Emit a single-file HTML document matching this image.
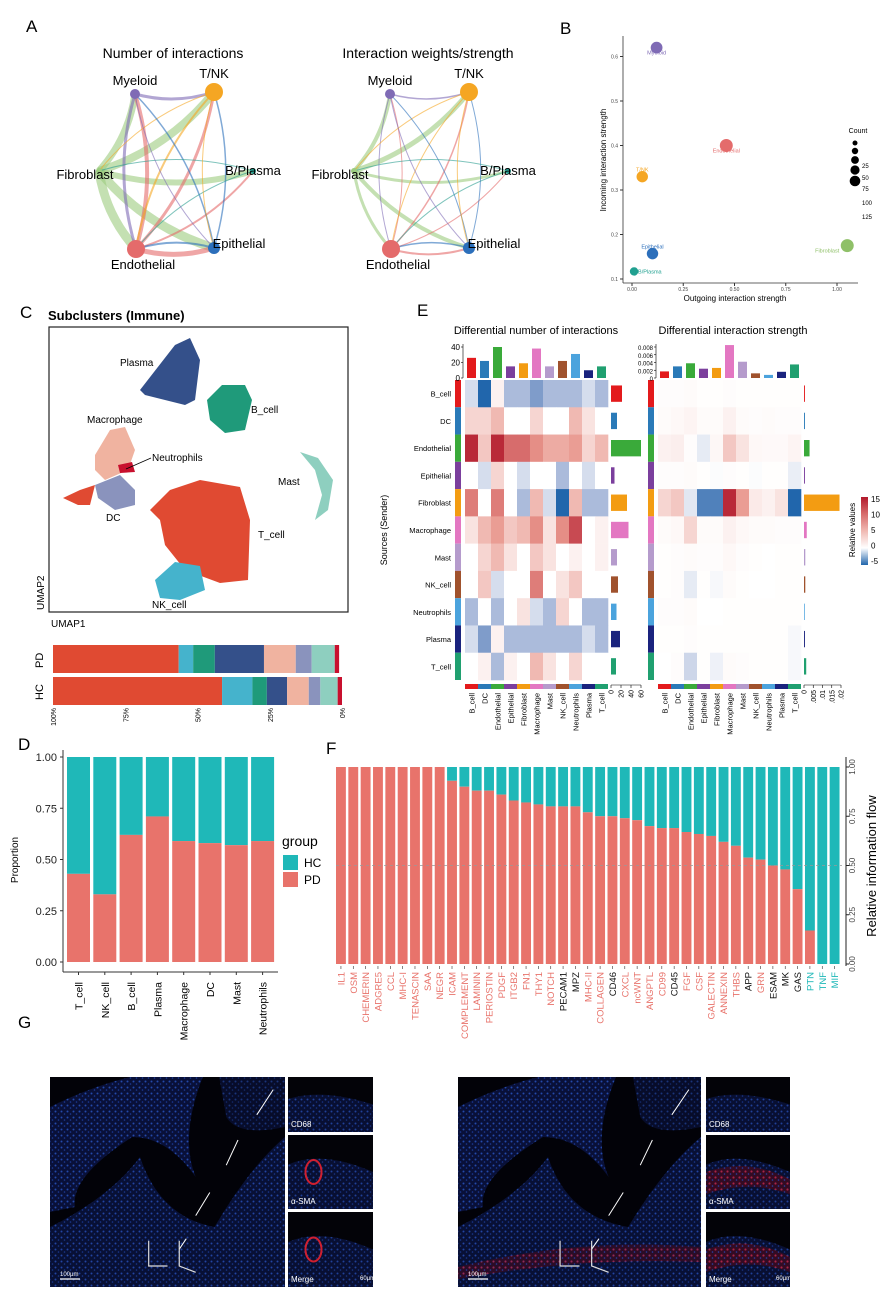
<!DOCTYPE html>
<html><head><meta charset="utf-8"><style>
body{margin:0;background:#fff;}
svg{display:block;font-family:"Liberation Sans",Arial,sans-serif;}
</style></head><body>
<svg id="fig" width="895" height="1300" viewBox="0 0 895 1300" xmlns="http://www.w3.org/2000/svg">
<defs>
<pattern id="tissue" width="6" height="6" patternUnits="userSpaceOnUse">
<rect width="6" height="6" fill="#0a1340"/>
<circle cx="1.5" cy="1.5" r="1" fill="#2a55c8"/>
<circle cx="4.5" cy="4" r="0.8" fill="#1f45b0"/>
</pattern>
<pattern id="tissueR" width="6" height="6" patternUnits="userSpaceOnUse">
<rect width="6" height="6" fill="#3a0a20"/>
<circle cx="1.5" cy="1.5" r="1.1" fill="#c0203a"/>
<circle cx="4.5" cy="4" r="0.8" fill="#2a45b0"/>
</pattern>
</defs>
<rect width="895" height="1300" fill="#fff"/>
<g font-size="17" fill="#000">
<text x="26" y="32">A</text>
<text x="560" y="34">B</text>
<text x="20" y="318">C</text>
<text x="417" y="316">E</text>
<text x="18" y="750">D</text>
<text x="326" y="754">F</text>
<text x="18" y="1028">G</text>
</g>
<g id="A"></g>
<g id="B"></g>
<g id="C"></g>
<g id="E"></g>
<g id="D"></g>
<g id="F"></g>
<g id="G"></g>
</svg>
<script>
const NS="http://www.w3.org/2000/svg";
function el(parent,tag,attrs,text){const e=document.createElementNS(NS,tag);for(const k in attrs)e.setAttribute(k,attrs[k]);if(text!==undefined)e.textContent=text;parent.appendChild(e);return e;}

/* ---------- Panel A data ---------- */
const netNodes=["Myeloid","T/NK","B/Plasma","Epithelial","Endothelial","Fibroblast"];
const netNodeSize=[5,9,3,6,9,3];
const netNodeColors=["#7f6bb5","#f5a623","#2a9d8f","#2c6fbb","#e46b6b","#9ccc7f"];
const netEdgesCount=[[5,0,7],[5,1,8],[5,4,9],[5,3,9],[5,2,6],[4,0,4],[4,1,3],[4,3,5],[4,2,2],[0,1,3],[0,4,3],[1,4,2],[1,5,1],[3,0,1.5],[3,1,1.5],[3,4,2],[2,4,1],[2,5,1],[1,3,1],[0,3,1]];
const netEdgesWeight=[[5,0,4],[5,1,5],[5,4,3],[5,3,4],[5,2,3],[4,0,1],[4,1,1.5],[4,3,2],[4,2,1],[0,1,1.5],[0,4,1],[1,4,1],[1,5,1],[3,0,1],[3,1,1],[3,4,1.5],[2,4,1],[2,5,1],[1,3,1],[0,3,1]];
(function(){
 const g=document.getElementById('A');
 const pos=[[-38,-77],[41,-79],[80,0],[41,77],[-37,78],[-74,0]];
 function net(cx,cy,title,edges,nm){
  const gg=el(g,'g',{});
  
  
  const t=el(gg,'text',{x:cx,y:58,'font-size':14,'text-anchor':'middle'},title);
  
  edges.forEach(([a,b,w])=>{
   const [x1,y1]=[cx+pos[a][0],cy+pos[a][1]],[x2,y2]=[cx+pos[b][0],cy+pos[b][1]];
   const mx=(x1+x2)/2,my=(y1+y2)/2;const dx=x2-x1,dy=y2-y1;
   const qx=mx-dy*0.15,qy=my+dx*0.15;
   const p=el(gg,'path',{d:`M${x1},${y1} Q${qx},${qy} ${x2},${y2}`,fill:'none',stroke:netNodeColors[a],'stroke-width':w,'stroke-opacity':0.6});
   
  });
  netNodes.forEach((n,i)=>{
   const x=cx+pos[i][0],y=cy+pos[i][1];
   const c=el(gg,'circle',{cx:x,cy:y,r:netNodeSize[i],fill:netNodeColors[i]});
   
   const off=[[0,-9,'middle'],[0,-14,'middle'],[0,4,'middle'],[25,0,'middle'],[7,20,'middle'],[-14,8,'middle']][i];
   const lab=el(gg,'text',{x:x+off[0],y:y+off[1],'font-size':13,'text-anchor':off[2]},n);
   
  });
 }
 net(173,171,'Number of interactions',netEdgesCount,'network-count');
 net(428,171,'Interaction weights/strength',netEdgesWeight,'network-weight');
})();

/* ---------- Panel B data ---------- */
const bNames=["Myeloid","Endothelial","T/NK","Epithelial","B/Plasma","Fibroblast"];
const bOutgoing=[0.12,0.46,0.05,0.10,0.01,1.05];
const bIncoming=[0.62,0.40,0.33,0.157,0.117,0.175];
const bCount=[60,80,55,55,20,80];
const bColors=["#7f6bb5","#e46b6b","#f5a623","#2c6fbb","#20a090","#8fc068"];
const bYTicks=[0.1,0.2,0.3,0.4,0.5,0.6];
const bXTicks=[0,0.25,0.5,0.75,1.0];
(function(){
 const g=document.getElementById('B');
 const X=v=>632+v*205, Y=v=>279-(v-0.1)*445;
 el(g,'line',{x1:623,y1:36,x2:623,y2:283,stroke:'#333','stroke-width':0.8});
 el(g,'line',{x1:623,y1:283,x2:858,y2:283,stroke:'#333','stroke-width':0.8});
 bYTicks.forEach(t=>{el(g,'line',{x1:620,x2:623,y1:Y(t),y2:Y(t),stroke:'#333'});el(g,'text',{x:618,y:Y(t)+2,'font-size':5,'text-anchor':'end',fill:'#444'},t.toFixed(1));});
 bXTicks.forEach(t=>{el(g,'line',{x1:X(t),x2:X(t),y1:283,y2:286,stroke:'#333'});el(g,'text',{x:X(t),y:291,'font-size':5,'text-anchor':'middle',fill:'#444'},t.toFixed(2));});
 const xt=el(g,'text',{x:735,y:301,'font-size':8,'text-anchor':'middle'},'Outgoing interaction strength');
 
 const yt=el(g,'text',{x:0,y:0,'font-size':8,'text-anchor':'middle',transform:'translate(606,160) rotate(-90)'},'Incoming interaction strength');
 
 bNames.forEach((n,i)=>{
  const c=el(g,'circle',{cx:X(bOutgoing[i]),cy:Y(bIncoming[i]),r:2+Math.sqrt(bCount[i])*0.5,fill:bColors[i]});
  
  const lx=n==='Fibroblast'?X(bOutgoing[i])-8:(n==='B/Plasma'?X(bOutgoing[i])+4:X(bOutgoing[i]));
  const anc=n==='Fibroblast'?'end':(n==='B/Plasma'?'start':'middle');
  const ly=n==='B/Plasma'?Y(bIncoming[i])+2:(n==='T/NK'?Y(bIncoming[i])-5:Y(bIncoming[i])+(n==='Epithelial'?-5:7));
  el(g,'text',{x:lx,y:ly,'font-size':5.5,'text-anchor':anc,fill:bColors[i]},n);
 });
 el(g,'text',{x:858,y:133,'font-size':7,'text-anchor':'middle'},'Count');
 [143,151,160,170,181].forEach((y,i)=>el(g,'circle',{cx:855,cy:y,r:2.5+i*0.7,fill:'#000'}));
 [['25',168],['50',180],['75',191],['100',205],['125',219]].forEach(([t,y])=>el(g,'text',{x:862,y:y,'font-size':6},t));
})();

/* ---------- Panel C data ---------- */
const cCells=["T_cell","NK_cell","B_cell","Plasma","Macrophage","DC","Mast","Neutrophils"];
const cColors=["#e04a32","#45b3cc","#1f9a7a","#34508a","#f0b3a0","#8a93bd","#8ecfbf","#c8102e"];
const cPD=[0.435,0.05,0.075,0.17,0.11,0.055,0.08,0.015];
const cHC=[0.585,0.105,0.05,0.07,0.075,0.04,0.06,0.015];
const cAxisTicks=["100%","75%","50%","25%","0%"];
(function(){
 const g=document.getElementById('C');
 const t=el(g,'text',{x:48,y:320,'font-size':13,'font-weight':'bold'},'Subclusters (Immune)');
 
 el(g,'rect',{x:49,y:327,width:299,height:285,fill:'#fff',stroke:'#222','stroke-width':1.2});
 const blobs=[
  ["#34508a","M140,390 L175,345 L190,338 L200,360 L195,400 L185,405 L165,400 L145,395 Z"],
  ["#1f9a7a","M207,400 L222,385 L245,385 L252,400 L245,430 L225,433 L210,420 Z"],
  ["#f0b3a0","M95,455 L110,430 L125,427 L135,450 L128,470 L105,480 L95,470 Z"],
  ["#8a93bd","M95,485 L120,475 L135,490 L135,505 L115,510 L98,498 Z"],
  ["#e04a32","M63,498 L80,490 L95,485 L90,505 L78,505 Z"],
  ["#c8102e","M118,465 L132,462 L135,472 L120,473 Z"],
  ["#e04a32","M150,510 L170,490 L200,480 L240,487 L250,520 L248,580 L220,583 L185,570 L165,545 L160,520 Z"],
  ["#45b3cc","M155,580 L175,562 L200,566 L205,590 L180,600 L160,598 Z"],
  ["#8ecfbf","M300,452 L318,458 L333,480 L328,510 L315,520 L322,495 L315,470 Z"]];
 blobs.forEach(([c,d])=>el(g,'path',{d:d,fill:c}));
 [["Plasma",120,366],["B_cell",251,413],["Macrophage",87,423],["Neutrophils",152,461],["Mast",278,485],["DC",106,521],["T_cell",258,538],["NK_cell",152,608]].forEach(([s,x,y])=>el(g,'text',{x:x,y:y,'font-size':10},s));
 el(g,'line',{x1:126,y1:469,x2:151,y2:458,stroke:'#000','stroke-width':0.8});
 el(g,'text',{x:51,y:627,'font-size':10},'UMAP1');
 el(g,'text',{x:0,y:0,'font-size':10,transform:'translate(44,610) rotate(-90)'},'UMAP2');
 const bx0=53,bw=289;
 function stack(vals,y,name){
  let acc=0;vals.forEach((v,i)=>{const r=el(g,'rect',{x:bx0+acc*bw,y:y,width:v*bw,height:28,fill:cColors[i]});
   acc+=v;});
 }
 stack(cPD,645,'pd-segment');stack(cHC,677,'hc-segment');
 el(g,'text',{x:0,y:0,'font-size':11,transform:'translate(43,668) rotate(-90)'},'PD');
 el(g,'text',{x:0,y:0,'font-size':11,transform:'translate(43,700) rotate(-90)'},'HC');
 cAxisTicks.forEach((s,i)=>el(g,'text',{x:0,y:0,'font-size':7,'text-anchor':'end',transform:`translate(${bx0+i*bw/4+3},708) rotate(-90)`},s));
})();

/* ---------- Panel E data ---------- */
const eCells=["B_cell","DC","Endothelial","Epithelial","Fibroblast","Macrophage","Mast","NK_cell","Neutrophils","Plasma","T_cell"];
const eColors=["#e31a1c","#2a7ab8","#3aaa3a","#7b3f9d","#f39c12","#e377c2","#b59bcc","#a0522d","#4ba3dd","#1a237e","#20a070"];
const eCountMatrix=[
 [-1,-5,1,-2,-2,-3,-2,-2,-2,-1,-2],
 [3,3,5,0,0,3,0,0,5,2,0],
 [14,4,14,10,10,8,6,6,7,3,5],
 [0,-1,3,0,-1,0,0,-2,0,-1,0],
 [9,0,9,0,-2,5,-1,-5,5,-2,-2],
 [2,5,7,4,5,8,2,8,12,0,1],
 [0,3,5,2,0,4,2,0,1,0,1],
 [0,4,-1,0,0,9,0,2,4,0,0],
 [-2,0,-2,0,2,-1,-2,3,0,-2,-2],
 [-1,-3,1,-2,-2,-2,-2,-2,-2,-1,-2],
 [0,1,-2,1,0,5,2,0,3,0,0]];
const eStrengthMatrix=[
 [0.2,0.2,0.3,0.1,0.1,0.2,0.1,0.1,0.1,0.1,0.1],
 [0.3,0.5,0.8,0.3,0.3,1,0.3,0.2,0.3,0.2,0.2],
 [1,1.2,0.2,-0.6,0.6,4,2,0.5,0.4,0.4,0.8],
 [0.2,0.2,0.3,0.1,-0.1,0.2,0.1,-0.1,0.1,0.1,-0.5],
 [3,4,-0.7,-4,-4,14,7,1.5,1,2,-5],
 [0.3,0.5,3,0.3,0.3,1,0.5,0.3,0.3,0.2,0.2],
 [0.1,0.2,0.3,0.2,0.2,0.5,0.2,0.1,0,0.1,0.1],
 [0.1,0.2,-0.6,0.1,-0.2,0.3,0.1,0,0,0.1,0.1],
 [0.2,0.2,0.3,0,0,0.1,0.1,0.1,0.1,0.1,0.1],
 [0.1,0.1,0.2,0.1,0.1,0.1,0.1,0.1,0.1,0.1,-0.2],
 [0,0.2,-1.2,0.1,-0.4,0.3,0.2,0.1,0.1,0.1,-0.2]];
const eCountTop=[26,22,40,15,19,38,15,22,31,10,15];
const eCountSide=[22,12,60,7,32,35,12,14,11,18,10];
const eStrTop=[0.0017,0.003,0.0038,0.0024,0.0026,0.0085,0.0042,0.0012,0.0008,0.0016,0.0035];
const eStrSide=[0.0005,0.0005,0.003,0.0005,0.0192,0.0015,0.0007,0.0007,0.0004,0.0005,0.0012];
const eCountTopTicks=[0,20,40];
const eStrTopTicks=[0,0.002,0.004,0.006,0.008];
const eCountSideTicks=[0,20,40,60];
const eStrSideTicks=[0,0.005,0.01,0.015,0.02];
const eLegendTicks=[15,10,5,0,-5];
function heatColor(v){
 const mix=(a,b,t)=>a.map((x,i)=>Math.round(x+(b[i]-x)*t));
 let c;
 if(v>=0){const t=Math.min(v/15,1);c=t<0.5?mix([255,255,255],[233,150,140],t*2):mix([233,150,140],[178,24,43],(t-0.5)*2);}
 else{const t=Math.min(-v/5,1);c=t<0.5?mix([255,255,255],[150,170,210],t*2):mix([150,170,210],[33,102,172],(t-0.5)*2);}
 return `rgb(${c})`;
}
(function(){
 const g=document.getElementById('E');
 const rowY0=380,rowH=300/11;
 function heat(x0,mat,top,topMax,topTicks,side,sideMax,sideLen,sideTicks,title,tx,fmt,nm){
  const cw=143/11;
  const tt=el(g,'text',{x:tx,y:334,'font-size':11,'text-anchor':'middle'},title);
  
  mat.forEach((row,r)=>row.forEach((v,c)=>{
   const rc=el(g,'rect',{x:x0+c*cw,y:rowY0+r*rowH,width:cw+0.3,height:rowH+0.3,fill:heatColor(v)});
   
  }));
  eColors.forEach((c,i)=>{el(g,'rect',{x:x0-10,y:rowY0+i*rowH,width:6,height:rowH,fill:c});el(g,'rect',{x:x0+i*cw,y:684,width:cw,height:5,fill:c});
   el(g,'text',{x:0,y:0,'font-size':7.5,'text-anchor':'end',transform:`translate(${x0+i*cw+cw/2+3},693) rotate(-90)`},eCells[i]);});
  const tb=347,tb0=378;
  el(g,'line',{x1:x0-2,x2:x0-2,y1:tb-3,y2:tb0,stroke:'#000','stroke-width':0.6});
  topTicks.forEach(t=>{const y=tb0-(t/topMax)*(tb0-tb);el(g,'line',{x1:x0-4,x2:x0-2,y1:y,y2:y,stroke:'#000','stroke-width':0.6});
   el(g,'text',{x:x0-5,y:y+3,'font-size':fmt?6:8,'text-anchor':'end'},fmt?fmt(t):t);});
  top.forEach((v,i)=>{const h=(v/topMax)*(tb0-tb);const b=el(g,'rect',{x:x0+i*cw+2,y:tb0-h,width:cw-4,height:h,fill:eColors[i]});
   });
  const sx=x0+146;
  side.forEach((v,i)=>{const w=(v/sideMax)*sideLen;const b=el(g,'rect',{x:sx,y:rowY0+i*rowH+rowH*0.2,width:w,height:rowH*0.6,fill:eColors[i]});
   });
  el(g,'line',{x1:sx,x2:sx+sideLen,y1:685,y2:685,stroke:'#000','stroke-width':0.6});
  sideTicks.forEach(t=>{const x=sx+(t/sideMax)*sideLen;el(g,'line',{x1:x,x2:x,y1:685,y2:688,stroke:'#000','stroke-width':0.6});
   el(g,'text',{x:0,y:0,'font-size':7,'text-anchor':'end',transform:`translate(${x+2.5},690) rotate(-90)`},String(t).replace(/^0\./,sideMax<1?'.':'0.'));});
 }
 heat(465,eCountMatrix,eCountTop,40,eCountTopTicks,eCountSide,60,30,eCountSideTicks,'Differential number of interactions',536,null,'count-heatmap');
 heat(658,eStrengthMatrix,eStrTop,0.008,eStrTopTicks,eStrSide,0.02,37,eStrSideTicks,'Differential interaction strength',733,t=>t===0?'0':t.toFixed(3),'strength-heatmap');
 eCells.forEach((c,i)=>el(g,'text',{x:451,y:rowY0+i*rowH+rowH/2+3,'font-size':7.5,'text-anchor':'end'},c));
 el(g,'text',{x:0,y:0,'font-size':9,'text-anchor':'middle',transform:'translate(387,530) rotate(-90)'},'Sources (Sender)');
 const defs=el(g,'defs',{});const lg=el(defs,'linearGradient',{id:'lgE',x1:0,y1:0,x2:0,y2:1});
 [[0,15],[0.25,10],[0.5,5],[0.75,0],[1,-5]].forEach(([o,v])=>el(lg,'stop',{offset:o,'stop-color':heatColor(v)}));
 const cb=el(g,'rect',{x:861,y:497,width:7,height:68,fill:'url(#lgE)'});
 
 eLegendTicks.forEach((t,i)=>el(g,'text',{x:871,y:502+i*15.5,'font-size':8},t));
 el(g,'text',{x:0,y:0,'font-size':8,'text-anchor':'middle',transform:'translate(855,530) rotate(-90)'},'Relative values');
})();

/* ---------- Panel D data ---------- */
const dCells=["T_cell","NK_cell","B_cell","Plasma","Macrophage","DC","Mast","Neutrophils"];
const dPD=[0.43,0.33,0.62,0.71,0.59,0.58,0.57,0.59];
const dYTicks=[0,0.25,0.5,0.75,1];
(function(){
 const g=document.getElementById('D');
 const Y=v=>962-v*205,x0=67,pitch=26.3,bw=23;
 el(g,'line',{x1:63,x2:63,y1:750,y2:972,stroke:'#333'});
 el(g,'line',{x1:63,x2:278,y1:972,y2:972,stroke:'#333'});
 dYTicks.forEach(t=>{el(g,'line',{x1:60,x2:63,y1:Y(t),y2:Y(t),stroke:'#333'});el(g,'text',{x:57,y:Y(t)+4,'font-size':11,'text-anchor':'end',fill:'#222'},t.toFixed(2));});
 el(g,'text',{x:0,y:0,'font-size':10,'text-anchor':'middle',transform:'translate(18,860) rotate(-90)'},'Proportion');
 dCells.forEach((c,i)=>{const x=x0+i*pitch;
  const h=el(g,'rect',{x:x,y:Y(1),width:bw,height:Y(dPD[i])-Y(1),fill:'#1fb8b8'});
  
  const p=el(g,'rect',{x:x,y:Y(dPD[i]),width:bw,height:Y(0)-Y(dPD[i]),fill:'#e8736b'});
  
  el(g,'line',{x1:x+bw/2,x2:x+bw/2,y1:972,y2:975,stroke:'#333'});
  el(g,'text',{x:0,y:0,'font-size':10.5,'text-anchor':'end',transform:`translate(${x+bw/2+4},982) rotate(-90)`},c);});
 el(g,'text',{x:282,y:846,'font-size':14},'group');
 const l1=el(g,'rect',{x:283,y:855,width:15,height:15,fill:'#1fb8b8'});
 const l2=el(g,'rect',{x:283,y:872,width:15,height:15,fill:'#e8736b'});
 el(g,'text',{x:304,y:867,'font-size':12},'HC');el(g,'text',{x:304,y:884,'font-size':12},'PD');
})();

/* ---------- Panel F data ---------- */
const fPathways=["IL1","OSM","CHEMERIN","ADGRE5","CCL","MHC-I","TENASCIN","SAA","NEGR","ICAM","COMPLEMENT","LAMININ","PERIOSTIN","PDGF","ITGB2","FN1","THY1","NOTCH","PECAM1","MPZ","MHC-II","COLLAGEN","CD46","CXCL","ncWNT","ANGPTL","CD99","CD45","FGF","CSF","GALECTIN","ANNEXIN","THBS","APP","GRN","ESAM","MK","GAS","PTN","TNF","MIF"];
const fPD=[1,1,1,1,1,1,1,1,1,0.93,0.90,0.88,0.88,0.86,0.83,0.82,0.81,0.80,0.80,0.80,0.77,0.75,0.75,0.74,0.73,0.70,0.69,0.69,0.67,0.66,0.65,0.62,0.60,0.54,0.53,0.50,0.48,0.38,0.17,0,0];
const fLabelGroup=["PD","PD","PD","PD","PD","PD","PD","PD","PD","PD","PD","PD","PD","PD","PD","PD","PD","PD","NS","NS","PD","PD","NS","PD","PD","PD","PD","NS","PD","PD","PD","PD","PD","NS","PD","NS","NS","NS","HC","HC","HC"];
const fYTicks=[0,0.25,0.5,0.75,1];
(function(){
 const g=document.getElementById('F');
 const Y=v=>964-v*197,x0=336,pitch=(842-336)/41,bw=pitch*0.8;
 fPathways.forEach((p,i)=>{const x=x0+i*pitch;
  const h=el(g,'rect',{x:x,y:Y(1),width:bw,height:Y(fPD[i])-Y(1),fill:'#1fb8b8'});
  
  const r=el(g,'rect',{x:x,y:Y(fPD[i]),width:bw,height:Y(0)-Y(fPD[i]),fill:'#e8736b'});
  
  el(g,'line',{x1:x+bw/2,x2:x+bw/2,y1:966,y2:969,stroke:'#333','stroke-width':0.6});
  const col=fLabelGroup[i]==='PD'?'#e8736b':(fLabelGroup[i]==='HC'?'#1fb8b8':'#111');
  el(g,'text',{x:0,y:0,'font-size':9.5,'text-anchor':'end',fill:col,transform:`translate(${x+bw/2+3.5},972) rotate(-90)`},p);});
 el(g,'line',{x1:x0,x2:842,y1:Y(0.5),y2:Y(0.5),stroke:'#999','stroke-dasharray':'3,3','stroke-width':0.7});
 el(g,'line',{x1:846,x2:846,y1:Y(1)-10,y2:Y(0)+2,stroke:'#222'});
 fYTicks.forEach(t=>{el(g,'line',{x1:846,x2:849,y1:Y(t),y2:Y(t),stroke:'#222'});
  el(g,'text',{x:0,y:0,'font-size':8,'text-anchor':'middle',fill:'#444',transform:`translate(855,${Y(t)}) rotate(-90)`},t.toFixed(2));});
 const yt=el(g,'text',{x:0,y:0,'font-size':13,'text-anchor':'middle',transform:'translate(876,866) rotate(-90)'},'Relative information flow');
 
})();

/* ---------- Panel G (microscopy, drawn shapes) ---------- */
(function(){
 const g=document.getElementById('G');
 function big(x,y,w,h,nm,red){
  const gg=el(g,'g',{});
  el(gg,'rect',{x:x,y:y,width:w,height:h,fill:'#020208'});
  el(gg,'path',{d:`M${x},${y+30} Q${x+40},${y+10} ${x+80},${y} L${x+w*0.65},${y} Q${x+w*0.55},${y+60} ${x+w*0.62},${y+100} Q${x+w*0.5},${y+60} ${x+w*0.35},${y+60} Q${x+20},${y+100} ${x+25},${y+130} L${x},${y+135} Z`,fill:'url(#tissue)',opacity:0.85});
  el(gg,'path',{d:`M${x},${y+150} Q${x+60},${y+120} ${x+90},${y+80} Q${x+110},${y+140} ${x+w*0.7},${y+150} Q${x+w*0.85},${y+90} ${x+w},${y+60} L${x+w},${y+h} L${x},${y+h} Z`,fill:'url(#tissue)',opacity:0.8});
  el(gg,'path',{d:`M${x+w*0.72},${y} L${x+w},${y} L${x+w},${y+50} Q${x+w*0.8},${y+60} ${x+w*0.75},${y+40} Z`,fill:'url(#tissue)',opacity:0.6});
  if(red){el(gg,'path',{d:`M${x},${y+h-20} Q${x+w*0.5},${y+h-50} ${x+w},${y+h-40} L${x+w},${y+h-25} Q${x+w*0.5},${y+h-30} ${x},${y+h-8} Z`,fill:'url(#tissueR)',opacity:0.7});}
  el(gg,'line',{x1:x+10,y1:y+h-8,x2:x+30,y2:y+h-8,stroke:'#fff','stroke-width':1.2});
  el(gg,'text',{x:x+10,y:y+h-11,'font-size':6,fill:'#fff'},'100µm');
  [[0.95,0.06,0.88,0.18],[0.8,0.3,0.75,0.42],[0.68,0.55,0.62,0.66],[0.58,0.77,0.55,0.82]].forEach(([a,b,c,d])=>el(gg,'line',{x1:x+a*w,y1:y+b*h,x2:x+c*w,y2:y+d*h,stroke:'#fff','stroke-width':1}));
  el(gg,'polyline',{points:`${x+w*0.42},${y+h*0.78} ${x+w*0.42},${y+h*0.9} ${x+w*0.5},${y+h*0.9}`,fill:'none',stroke:'#ddd','stroke-width':1.2});
  el(gg,'polyline',{points:`${x+w*0.55},${y+h*0.78} ${x+w*0.55},${y+h*0.9} ${x+w*0.62},${y+h*0.93}`,fill:'none',stroke:'#ddd','stroke-width':1.2});
 }
 function small(x,y,w,h,label,strong,nm){
  const gg=el(g,'g',{});
  el(gg,'rect',{x:x,y:y,width:w,height:h,fill:'#030308'});
  el(gg,'path',{d:`M${x},${y+h*0.4} Q${x+w*0.4},${y+h*0.2} ${x+w},${y+h*0.5} L${x+w},${y+h} L${x},${y+h} Z`,fill:'url(#tissue)',opacity:0.75});
  if(strong==='red')el(gg,'path',{d:`M${x},${y+h*0.5} Q${x+w*0.5},${y+h*0.3} ${x+w},${y+h*0.6} L${x+w},${y+h*0.8} Q${x+w*0.5},${y+h*0.6} ${x},${y+h*0.8} Z`,fill:'url(#tissueR)',opacity:0.85});
  if(strong==='ring')el(gg,'ellipse',{cx:x+w*0.3,cy:y+h*0.5,rx:8,ry:12,fill:'none',stroke:'#d02030','stroke-width':2});
  el(gg,'text',{x:x+3,y:y+h-5,'font-size':8,fill:'#fff'},label);
 }
 big(50,1077,235,210,'microscopy-left',false);
 small(288,1077,85,55,'CD68',null,'left-cd68');
 small(288,1135,85,74,'α-SMA','ring','left-asma');
 small(288,1212,85,75,'Merge','ring','left-merge');
 el(g,'text',{x:360,y:1280,'font-size':6,fill:'#fff'},'60µm');
 big(458,1077,243,210,'microscopy-right',true);
 small(706,1077,84,55,'CD68',null,'right-cd68');
 small(706,1135,84,74,'α-SMA','red','right-asma');
 small(706,1212,84,75,'Merge','red','right-merge');
 el(g,'text',{x:776,y:1280,'font-size':6,fill:'#fff'},'60µm');
})();
</script>
</body></html>
